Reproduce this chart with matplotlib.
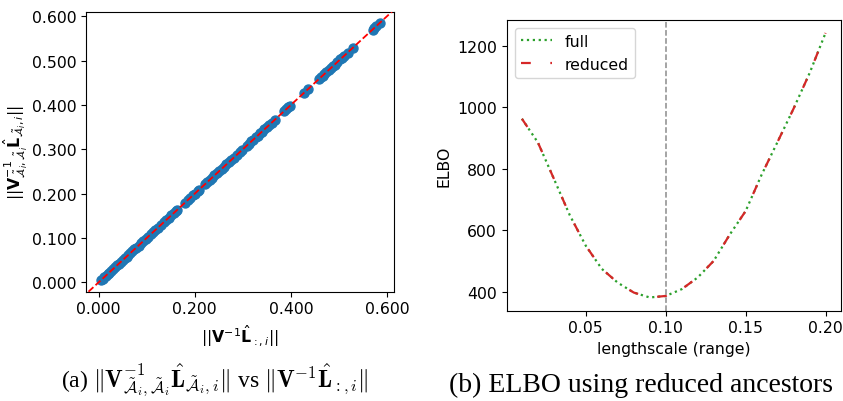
import matplotlib
matplotlib.use("Agg")
import matplotlib.pyplot as plt
from matplotlib.ticker import FormatStrFormatter

plt.rcParams["font.size"] = 11.3

# ---- data: panel (a) ----
norm_full = [0.005, 0.008, 0.012, 0.015, 0.019, 0.022, 0.026, 0.030, 0.034, 0.038,
             0.042, 0.046, 0.050, 0.054, 0.058, 0.062, 0.066, 0.070, 0.074, 0.078,
             0.083, 0.088, 0.093, 0.098, 0.103, 0.108, 0.113, 0.118, 0.123, 0.130,
             0.135, 0.140, 0.146, 0.151, 0.156, 0.161, 0.164,
             0.180, 0.185, 0.190, 0.196, 0.200, 0.206, 0.209,
             0.222, 0.226, 0.231, 0.236, 0.241, 0.246, 0.251, 0.256, 0.261, 0.266,
             0.271, 0.276, 0.281, 0.288, 0.295, 0.298,
             0.308, 0.312, 0.318, 0.322, 0.327, 0.331, 0.336, 0.340, 0.345, 0.350,
             0.355, 0.360, 0.366,
             0.386, 0.390, 0.395, 0.398,
             0.427, 0.436,
             0.458, 0.462, 0.466, 0.470, 0.474, 0.479, 0.483, 0.487, 0.491, 0.496,
             0.503, 0.507, 0.511, 0.518, 0.529,
             0.570, 0.574, 0.578, 0.585]
norm_reduced = list(norm_full)  # points lie on the diagonal
ticks_a_x = [0.0, 0.2, 0.4, 0.6]
ticks_a_y = [0.0, 0.1, 0.2, 0.3, 0.4, 0.5, 0.6]

# ---- data: panel (b) ----
lengthscale = [0.01, 0.02, 0.03, 0.04, 0.05, 0.06, 0.07, 0.08, 0.09, 0.10,
               0.11, 0.12, 0.13, 0.14, 0.15, 0.16, 0.17, 0.18, 0.19, 0.20]
elbo_full = [962, 885, 767, 648, 549, 474, 429, 397, 381, 386,
             408, 446, 500, 585, 662, 780, 887, 995, 1110, 1241]
elbo_reduced = [962, 885, 767, 648, 549, 474, 429, 397, 381, 386,
                408, 446, 500, 585, 662, 780, 887, 995, 1110, 1241]
best_lengthscale = 0.10

fig = plt.figure(figsize=(8.43, 4.02), dpi=100)

# ---- panel (a) ----
ax1 = fig.add_axes([0.1020, 0.2719, 0.3657, 0.6965])
ax1.scatter(norm_full, norm_reduced, color="tab:blue", s=42, zorder=2)
ax1.axline((0, 0), slope=1, color="red", linestyle="--", linewidth=1.3, zorder=3)
ax1.set_xlim(-0.0264, 0.6153)
ax1.set_ylim(-0.0212, 0.6104)
ax1.set_xticks(ticks_a_x)
ax1.set_yticks(ticks_a_y)
ax1.xaxis.set_major_formatter(FormatStrFormatter("%.3f"))
ax1.yaxis.set_major_formatter(FormatStrFormatter("%.3f"))
ax1.set_xlabel(r"$||\mathbf{V}^{-1}\hat{\mathbf{L}}_{:,i}||$")
ax1.set_ylabel(r"$||\mathbf{V}^{-1}_{\tilde{\mathcal{A}}_i,\tilde{\mathcal{A}}_i}"
               r"\hat{\mathbf{L}}_{\tilde{\mathcal{A}}_i,i}||$", labelpad=1)

# ---- panel (b) ----
ax2 = fig.add_axes([0.6011, 0.2246, 0.3962, 0.7239])
ax2.plot(lengthscale, elbo_full, color="tab:green", linestyle=":", linewidth=1.6,
         label="full")
ax2.plot(lengthscale, elbo_reduced, color="tab:red", linestyle=(0, (4.4, 8.8)),
         linewidth=1.6, label="reduced")
ax2.axvline(best_lengthscale, color="#8c8c8c", linestyle="--", linewidth=1.1)
ax2.set_xlabel("lengthscale (range)")
ax2.set_ylabel("ELBO")
ax2.legend(loc="upper left")

# ---- captions ----
fig.text(0.255, 0.055,
         r"(a) $\Vert\mathbf{V}^{-1}_{\tilde{\mathcal{A}}_i,\tilde{\mathcal{A}}_i}"
         r"\hat{\mathbf{L}}_{\tilde{\mathcal{A}}_i,i}\Vert$ vs "
         r"$\Vert\mathbf{V}^{-1}\hat{\mathbf{L}}_{:,i}\Vert$",
         ha="center", va="center", fontsize=17, family="Liberation Serif",
         math_fontfamily="cm")
fig.text(0.760, 0.042, "(b) ELBO using reduced ancestors",
         ha="center", va="center", fontsize=20, family="Liberation Serif")

fig.savefig("out.png", dpi=100)
